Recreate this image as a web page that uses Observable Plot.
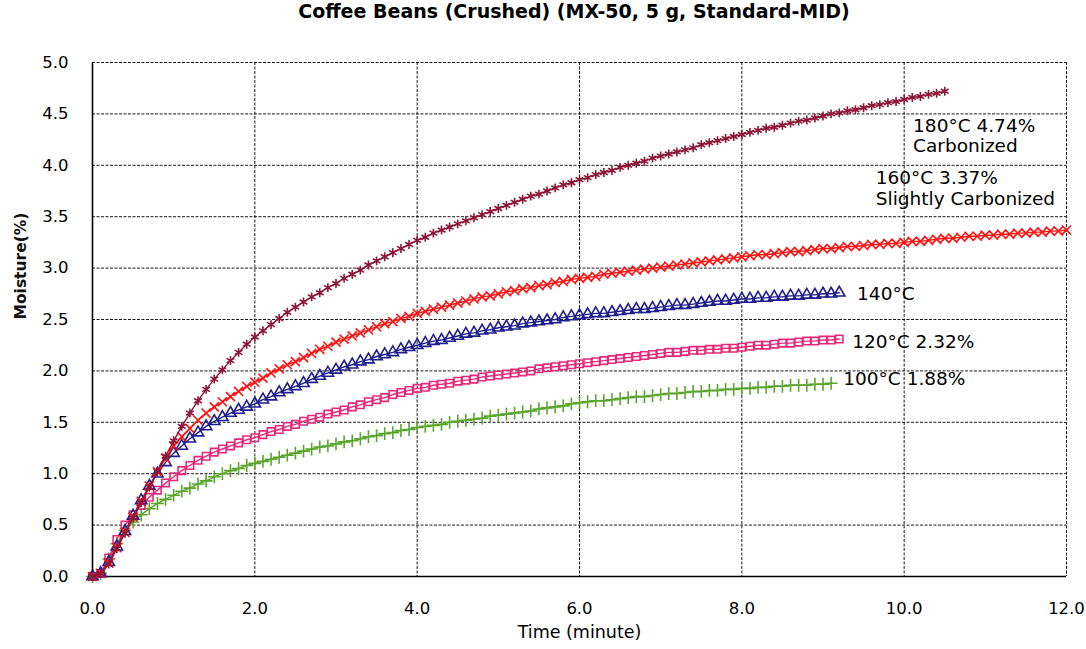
<!DOCTYPE html>
<html><head><meta charset="utf-8">
<script src="https://cdn.jsdelivr.net/npm/d3@7"></script>
<script src="https://cdn.jsdelivr.net/npm/@observablehq/plot@0.6"></script>
<style>
body{margin:0;background:#fff;}
#title{height:44px;line-height:44px;font:bold 19px "DejaVu Sans",sans-serif;text-align:center;padding-left:62px;box-sizing:border-box;width:1086px;color:#000;white-space:nowrap}
</style></head><body>
<div id="title">Coffee Beans (Crushed) (MX-50, 5 g, Standard-MID)</div>
<div id="chart"></div>
<script>
// Sampling interval of the measurements (minutes)
const timeStep = 0.1;

const xTicks = [0, 2, 4, 6, 8, 10, 12];
const yTicks = [0, 0.5, 1, 1.5, 2, 2.5, 3, 3.5, 4, 4.5, 5];

const seriesNames = ["100°C", "120°C", "140°C", "160°C", "180°C"];
const seriesColors = ["#5aa52e", "#e8287a", "#1e1e8c", "#ff1010", "#8c1538"];
const seriesSymbols = ["plus", "square", "triangle", "times", "asterisk"];

const m100 = [0.00,0.03,0.17,0.32,0.45,0.53,0.60,0.66,0.71,0.75,0.79,0.83,0.86,0.90,0.93,0.97,1.00,1.03,1.05,1.08,
1.10,1.12,1.14,1.16,1.18,1.20,1.22,1.24,1.26,1.27,1.29,1.31,1.32,1.34,1.36,1.37,1.39,1.40,1.42,1.43,
1.45,1.46,1.47,1.48,1.50,1.51,1.52,1.53,1.54,1.56,1.57,1.58,1.59,1.60,1.61,1.63,1.64,1.65,1.66,1.68,
1.69,1.70,1.71,1.71,1.72,1.73,1.74,1.75,1.75,1.76,1.77,1.78,1.78,1.79,1.80,1.80,1.81,1.81,1.82,1.82,
1.83,1.83,1.84,1.84,1.85,1.85,1.86,1.86,1.86,1.87,1.87,1.88];

const m120 = [0.00,0.03,0.18,0.36,0.50,0.60,0.69,0.77,0.84,0.91,0.97,1.03,1.08,1.13,1.17,1.21,1.24,1.27,1.30,1.33,
1.35,1.38,1.41,1.43,1.46,1.48,1.51,1.53,1.55,1.58,1.60,1.62,1.65,1.67,1.70,1.72,1.74,1.77,1.79,1.81,
1.83,1.84,1.86,1.87,1.88,1.90,1.91,1.92,1.94,1.95,1.96,1.97,1.98,1.99,2.00,2.02,2.03,2.04,2.05,2.06,
2.07,2.08,2.09,2.10,2.11,2.12,2.13,2.14,2.15,2.16,2.17,2.18,2.18,2.19,2.20,2.20,2.21,2.21,2.22,2.22,
2.23,2.24,2.25,2.25,2.26,2.27,2.27,2.28,2.29,2.29,2.30,2.30,2.31];

const m140 = [0.00,0.03,0.14,0.29,0.44,0.59,0.74,0.88,1.00,1.11,1.20,1.27,1.34,1.40,1.46,1.51,1.55,1.59,1.62,1.65,
1.68,1.72,1.75,1.79,1.82,1.85,1.88,1.92,1.95,1.98,2.01,2.04,2.06,2.09,2.11,2.14,2.16,2.18,2.21,2.23,
2.25,2.27,2.29,2.30,2.32,2.34,2.36,2.37,2.39,2.40,2.42,2.43,2.44,2.46,2.47,2.48,2.49,2.50,2.52,2.53,
2.54,2.55,2.56,2.56,2.57,2.58,2.59,2.60,2.60,2.61,2.62,2.63,2.64,2.64,2.65,2.66,2.67,2.68,2.68,2.69,
2.70,2.70,2.71,2.71,2.72,2.72,2.73,2.73,2.74,2.74,2.75,2.75,2.76];

const m160 = [0.00,0.03,0.13,0.28,0.43,0.58,0.73,0.88,1.02,1.15,1.27,1.36,1.44,1.52,1.59,1.65,1.70,1.75,1.80,1.85,
1.89,1.93,1.98,2.02,2.06,2.09,2.13,2.17,2.21,2.24,2.28,2.31,2.34,2.37,2.40,2.43,2.46,2.48,2.51,2.53,
2.56,2.58,2.60,2.62,2.64,2.66,2.68,2.70,2.72,2.73,2.75,2.77,2.78,2.80,2.81,2.83,2.84,2.86,2.87,2.89,
2.90,2.91,2.92,2.94,2.95,2.96,2.97,2.98,2.99,3.00,3.01,3.02,3.03,3.04,3.05,3.06,3.07,3.08,3.09,3.10,
3.11,3.12,3.13,3.13,3.14,3.15,3.16,3.16,3.17,3.18,3.19,3.19,3.20,3.21,3.21,3.22,3.23,3.23,3.24,3.24,
3.25,3.26,3.26,3.27,3.28,3.29,3.29,3.30,3.31,3.31,3.32,3.32,3.33,3.33,3.34,3.34,3.35,3.35,3.36,3.36,
3.37];

const m180 = [0.00,0.03,0.12,0.27,0.42,0.57,0.72,0.87,1.02,1.17,1.32,1.46,1.59,1.71,1.82,1.92,2.01,2.10,2.18,2.26,
2.33,2.39,2.45,2.51,2.57,2.62,2.67,2.72,2.76,2.81,2.85,2.90,2.94,2.98,3.03,3.07,3.11,3.15,3.19,3.23,
3.27,3.30,3.34,3.37,3.40,3.43,3.46,3.49,3.52,3.55,3.58,3.61,3.64,3.67,3.70,3.72,3.75,3.78,3.81,3.83,
3.86,3.88,3.91,3.93,3.95,3.98,4.00,4.02,4.04,4.07,4.09,4.11,4.13,4.15,4.17,4.20,4.22,4.24,4.26,4.28,
4.30,4.32,4.34,4.36,4.37,4.39,4.41,4.43,4.44,4.46,4.48,4.50,4.51,4.53,4.54,4.56,4.58,4.59,4.61,4.62,
4.64,4.66,4.67,4.69,4.70,4.72];

const seriesValues = [m100, m120, m140, m160, m180];

// Annotation texts and their anchor positions (time, moisture)
const noteTexts = ["100°C 1.88%", "120°C 2.32%", "140°C", "160°C 3.37%\nSlightly Carbonized", "180°C 4.74%\nCarbonized"];
const noteT = [9.25, 9.36, 9.42, 9.65, 10.11];
const noteM = [1.93, 2.29, 2.75, 3.78, 4.29];

const rows = seriesNames.map((name, k) =>
  seriesValues[k].map((v, i) => ({series: name, t: +(i * timeStep).toFixed(1), m: v})));
const notes = noteTexts.map((text, i) => ({text, t: noteT[i], m: noteM[i]}));

const seriesMarks = seriesNames.flatMap((name, k) => [
  Plot.line(rows[k], {x: "t", y: "m", stroke: seriesColors[k], strokeWidth: 1.4}),
  Plot.dot(rows[k], {x: "t", y: "m", symbol: seriesSymbols[k], stroke: seriesColors[k],
    fill: "none", r: 4.2, strokeWidth: 1.6})
]);

const chart = Plot.plot({
  width: 1086,
  height: 605,
  marginTop: 18,
  marginBottom: 73,
  marginLeft: 92,
  marginRight: 20,
  style: {fontFamily: "'DejaVu Sans', sans-serif", fontSize: "16px", color: "#000", background: "#fff"},
  x: {domain: [0, 12], label: null},
  y: {domain: [0, 5], label: null},
  marks: [
    Plot.gridX(xTicks, {stroke: "#000", strokeOpacity: 0.9, strokeDasharray: "3,1.5", strokeWidth: 1}),
    Plot.gridY(yTicks, {stroke: "#000", strokeOpacity: 0.9, strokeDasharray: "3,1.5", strokeWidth: 1}),
    Plot.axisX(xTicks, {tickSize: 0, tickPadding: 26, tickFormat: d3.format(".1f"), fontSize: 16.5, fill: "#000", label: null}),
    Plot.axisY(yTicks, {tickSize: 0, tickPadding: 24, tickFormat: d3.format(".1f"), fontSize: 16.5, fill: "#000", label: null}),
    Plot.ruleX([0], {stroke: "#000", strokeWidth: 1.6}),
    Plot.ruleY([0], {stroke: "#000", strokeWidth: 1.6}),
    ...seriesMarks,
    Plot.text(notes, {x: "t", y: "m", text: "text", textAnchor: "start", lineAnchor: "middle",
      lineHeight: 1.1, fontSize: 18.5, fill: "#000"}),
    Plot.text(["Time (minute)"], {frameAnchor: "bottom", dy: 61, fontSize: 17.5, fill: "#000"}),
    Plot.text(["Moisture(%)"], {frameAnchor: "left", dx: -71, rotate: -90, fontSize: 15.5,
      fontWeight: "bold", fill: "#111"})
  ]
});
document.getElementById("chart").appendChild(chart);
</script>
</body></html>
